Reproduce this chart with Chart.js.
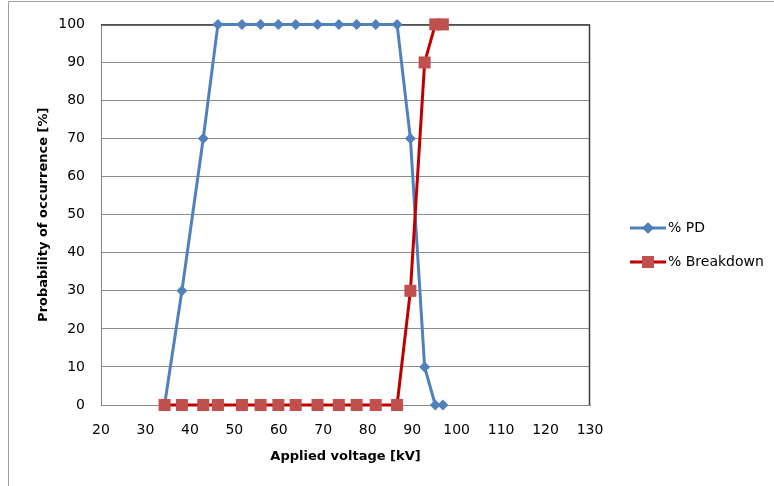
<!DOCTYPE html>
<html>
<head>
<meta charset="utf-8">
<script src="https://cdn.jsdelivr.net/npm/chart.js@4.4.0/dist/chart.umd.min.js"></script>
<style>
html, body { margin: 0; padding: 0; background: #fff; overflow: hidden; }
#wrap { width: 774px; height: 486px; }
</style>
</head>
<body>
<div id="wrap"><canvas id="cppChart" width="774" height="486"></canvas></div>
<script>
// values
var voltage = [34.3, 38.2, 43.0, 46.3, 51.7, 55.9, 59.9, 63.8, 68.7, 73.5, 77.5, 81.8, 86.6, 89.6, 92.8, 95.2, 96.9];
var pdPct = [0, 30, 70, 100, 100, 100, 100, 100, 100, 100, 100, 100, 100, 70, 10, 0, 0];
var breakdownPct = [0, 0, 0, 0, 0, 0, 0, 0, 0, 0, 0, 0, 0, 30, 90, 100, 100];
var seriesNames = ['% PD', '% Breakdown'];
var xRange = [20, 130], yRange = [0, 100], tickStep = 10;

var FONT = 'DejaVu Sans';
var BLUE = '#4f81bd', RED_LINE = '#c00000', RED_MARK = '#c0504d';

function pts(ys) { return voltage.map(function (v, i) { return { x: v, y: ys[i] }; }); }

// plot frame + outer border
var frame = {
    id: 'frame',
    beforeDraw: function (chart) {
        var c = chart.ctx; c.save();
        c.fillStyle = '#fff'; c.fillRect(0, 0, chart.width, chart.height);
        c.strokeStyle = '#a0a0a0'; c.lineWidth = 1;
        c.beginPath(); c.moveTo(8.5, chart.height); c.lineTo(8.5, 1.5); c.lineTo(chart.width, 1.5); c.stroke();
        c.restore();
    },
    beforeDatasetsDraw: function (chart) {
        var a = chart.chartArea, c = chart.ctx; c.save();
        c.strokeStyle = '#3c3c3c'; c.lineWidth = 1.5;
        c.beginPath(); c.moveTo(a.left, a.top + 0.5); c.lineTo(a.right - 0.5, a.top + 0.5); c.lineTo(a.right - 0.5, a.bottom); c.stroke();
        c.restore();
    },
    afterDraw: function (chart) {
        // legend: line with marker in the middle
        var c = chart.ctx; c.save();
        c.font = '14px "' + FONT + '"'; c.textBaseline = 'middle'; c.fillStyle = '#000';
        var rows = [228, 262];
        chart.data.datasets.forEach(function (ds, i) {
            var y = rows[i];
            c.strokeStyle = ds.borderColor; c.lineWidth = 3;
            c.beginPath(); c.moveTo(630, y); c.lineTo(666, y); c.stroke();
            Chart.helpers.drawPoint(c, { pointStyle: ds.pointStyle, radius: ds.pointRadius, borderWidth: 0 }, 648, y);
            c.fillStyle = ds.pointBackgroundColor; c.fill();
            c.fillStyle = '#000'; c.fillText(ds.label, 668, y);
        });
        c.restore();
    }
};

new Chart(document.getElementById('cppChart'), {
    type: 'scatter',
    data: {
        datasets: [
            { label: seriesNames[0], data: pts(pdPct), showLine: true, borderColor: BLUE, borderWidth: 3,
              pointStyle: 'rectRot', pointRadius: 5.5, pointBackgroundColor: BLUE, pointBorderWidth: 0, order: 1 },
            { label: seriesNames[1], data: pts(breakdownPct), showLine: true, borderColor: RED_LINE, borderWidth: 3,
              pointStyle: 'rect', pointRadius: 8.5, pointBackgroundColor: RED_MARK, pointBorderWidth: 0, order: 0 }
        ]
    },
    options: {
        responsive: false, animation: false, clip: false,
        layout: { padding: { left: 0, top: 21, right: 184, bottom: 0 } },
        plugins: { legend: { display: false }, tooltip: { enabled: false } },
        scales: {
            x: {
                type: 'linear', min: xRange[0], max: xRange[1],
                afterFit: function (s) { s.height = 81; },
                ticks: { stepSize: tickStep, padding: 17, color: '#000', font: { family: FONT, size: 14 } },
                grid: { display: false, drawTicks: false },
                border: { display: true, color: '#868686', width: 1 },
                title: { display: true, text: 'Applied voltage [kV]', color: '#000', padding: { top: 0, bottom: 22 },
                         font: { family: FONT, size: 13, weight: 'bold' } }
            },
            y: {
                min: yRange[0], max: yRange[1],
                afterFit: function (s) { s.width = 101; },
                ticks: { stepSize: tickStep, padding: 16, color: '#000', font: { family: FONT, size: 14 } },
                grid: { color: '#8c8c8c', lineWidth: 1, drawTicks: false },
                border: { display: true, color: '#868686', width: 1 },
                title: { display: true, text: 'Probability of occurrence [%]', color: '#000', padding: { top: 36, bottom: 0 },
                         font: { family: FONT, size: 13, weight: 'bold' } }
            }
        }
    },
    plugins: [frame]
});
</script>
</body>
</html>
